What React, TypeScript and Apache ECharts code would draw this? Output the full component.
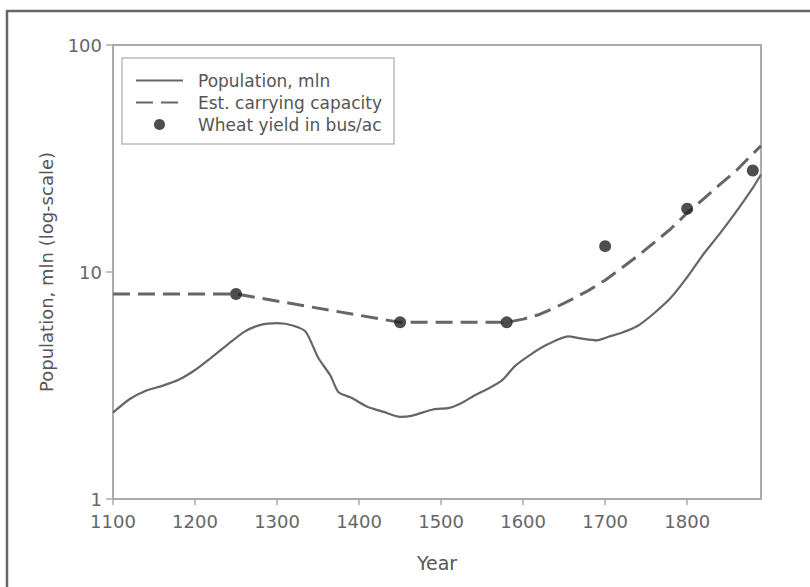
import React, { useEffect, useRef } from "react";
import * as echarts from "echarts";

const popYears = [1100, 1120, 1140, 1160, 1180, 1200, 1220, 1240, 1260, 1280, 1300, 1320, 1335, 1350, 1365, 1375, 1390, 1410, 1430, 1450, 1465, 1490, 1510, 1525, 1540, 1560, 1575, 1590, 1610, 1630, 1655, 1670, 1690, 1705, 1720, 1740, 1760, 1780, 1800, 1820, 1840, 1860, 1880, 1890];
const popValues = [2.4, 2.75, 3.0, 3.15, 3.35, 3.7, 4.2, 4.8, 5.45, 5.85, 5.95, 5.8, 5.45, 4.2, 3.5, 2.95, 2.8, 2.55, 2.42, 2.3, 2.33, 2.48, 2.52, 2.65, 2.85, 3.1, 3.35, 3.85, 4.35, 4.8, 5.2, 5.1, 5.0, 5.2, 5.4, 5.8, 6.6, 7.7, 9.5, 12.0, 14.8, 18.5, 23.5, 26.9];

const capYears = [1100, 1250, 1450, 1580, 1600, 1620, 1640, 1660, 1680, 1700, 1720, 1740, 1760, 1780, 1800, 1820, 1840, 1860, 1875, 1890];
const capValues = [8, 8, 6, 6, 6.2, 6.5, 7.0, 7.6, 8.3, 9.2, 10.4, 11.8, 13.5, 15.5, 18.2, 21, 24.3, 28, 31.8, 36];

const wheatYears = [1250, 1450, 1580, 1700, 1800, 1880];
const wheatValues = [8, 6, 6, 13, 19, 28];

const xMin = 1100;
const xMax = 1890;
const xInterval = 100;

const FONT = "DejaVu Sans";

export default function App() {
  const ref = useRef<HTMLDivElement>(null);

  useEffect(() => {
    if (!ref.current) return;
    const chart = echarts.init(ref.current, undefined, { renderer: "svg" });
    const pair = (xs: number[], ys: number[]) => xs.map((x, i) => [x, ys[i]]);

    chart.setOption({
      animation: false,
      backgroundColor: "#ffffff",
      textStyle: { fontFamily: FONT },
      grid: {
        left: 113,
        right: 49,
        top: 45,
        bottom: 88,
        show: true,
        borderColor: "#aaaaaa",
        borderWidth: 2,
      },
      graphic: [
        {
          type: "rect",
          shape: { x: 7, y: 11, width: 900, height: 700 },
          style: { fill: "none", stroke: "#666666", lineWidth: 2.5 },
          silent: true,
          z: 100,
        },
      ],
      legend: {
        left: 122,
        top: 58,
        orient: "vertical",
        borderColor: "#bbbbbb",
        borderWidth: 1.5,
        padding: [14, 12, 11, 13],
        itemGap: 5,
        itemWidth: 47,
        itemHeight: 11,
        textStyle: { fontFamily: FONT, fontSize: 17, color: "#555555", padding: [0, 0, 0, 10] },
        data: [
          { name: "Population, mln", itemStyle: { opacity: 0 } },
          { name: "Est. carrying capacity", itemStyle: { opacity: 0 } },
          { name: "Wheat yield in bus/ac" },
        ],
      },
      xAxis: {
        type: "value",
        min: xMin,
        max: xMax,
        interval: xInterval,
        name: "Year",
        nameLocation: "middle",
        nameGap: 54,
        nameTextStyle: { fontFamily: FONT, fontSize: 19, color: "#555555" },
        axisLine: { show: true, lineStyle: { color: "#aaaaaa", width: 2 } },
        axisTick: { show: true, length: 6, lineStyle: { color: "#aaaaaa", width: 1.5 } },
        axisLabel: {
          showMaxLabel: false,
          margin: 13,
          fontFamily: FONT,
          fontSize: 18,
          color: "#666666",
          formatter: (v: number) => String(v),
        },
        splitLine: { show: false },
      },
      yAxis: {
        type: "log",
        logBase: 10,
        min: 1,
        max: 100,
        name: "Population, mln (log-scale)",
        nameLocation: "middle",
        nameGap: 58,
        nameTextStyle: { fontFamily: FONT, fontSize: 18, color: "#555555" },
        axisLine: { show: true, lineStyle: { color: "#aaaaaa", width: 2 } },
        axisTick: { show: true, length: 7, lineStyle: { color: "#aaaaaa", width: 1.5 } },
        axisLabel: { margin: 11, fontFamily: FONT, fontSize: 18, color: "#666666" },
        splitLine: { show: false },
        minorTick: { show: false },
      },
      series: [
        {
          name: "Population, mln",
          type: "line",
          data: pair(popYears, popValues),
          symbol: "none",
          smooth: 0.25,
          lineStyle: { color: "#666666", width: 2.2 },
          itemStyle: { color: "#666666" },
          z: 2,
        },
        {
          name: "Est. carrying capacity",
          type: "line",
          data: pair(capYears, capValues),
          symbol: "none",
          smooth: false,
          lineStyle: { color: "#666666", width: 3, type: [17, 8] },
          itemStyle: { color: "#666666" },
          z: 2,
        },
        {
          name: "Wheat yield in bus/ac",
          type: "scatter",
          data: pair(wheatYears, wheatValues),
          symbol: "circle",
          symbolSize: 12,
          itemStyle: { color: "#222222" },
          z: 3,
        },
      ],
    });

    return () => {
      chart.dispose();
    };
  }, []);

  return (
    <div
      ref={ref}
      style={{ position: "fixed", left: 0, top: 0, width: 810, height: 587, background: "#fff" }}
    />
  );
}
